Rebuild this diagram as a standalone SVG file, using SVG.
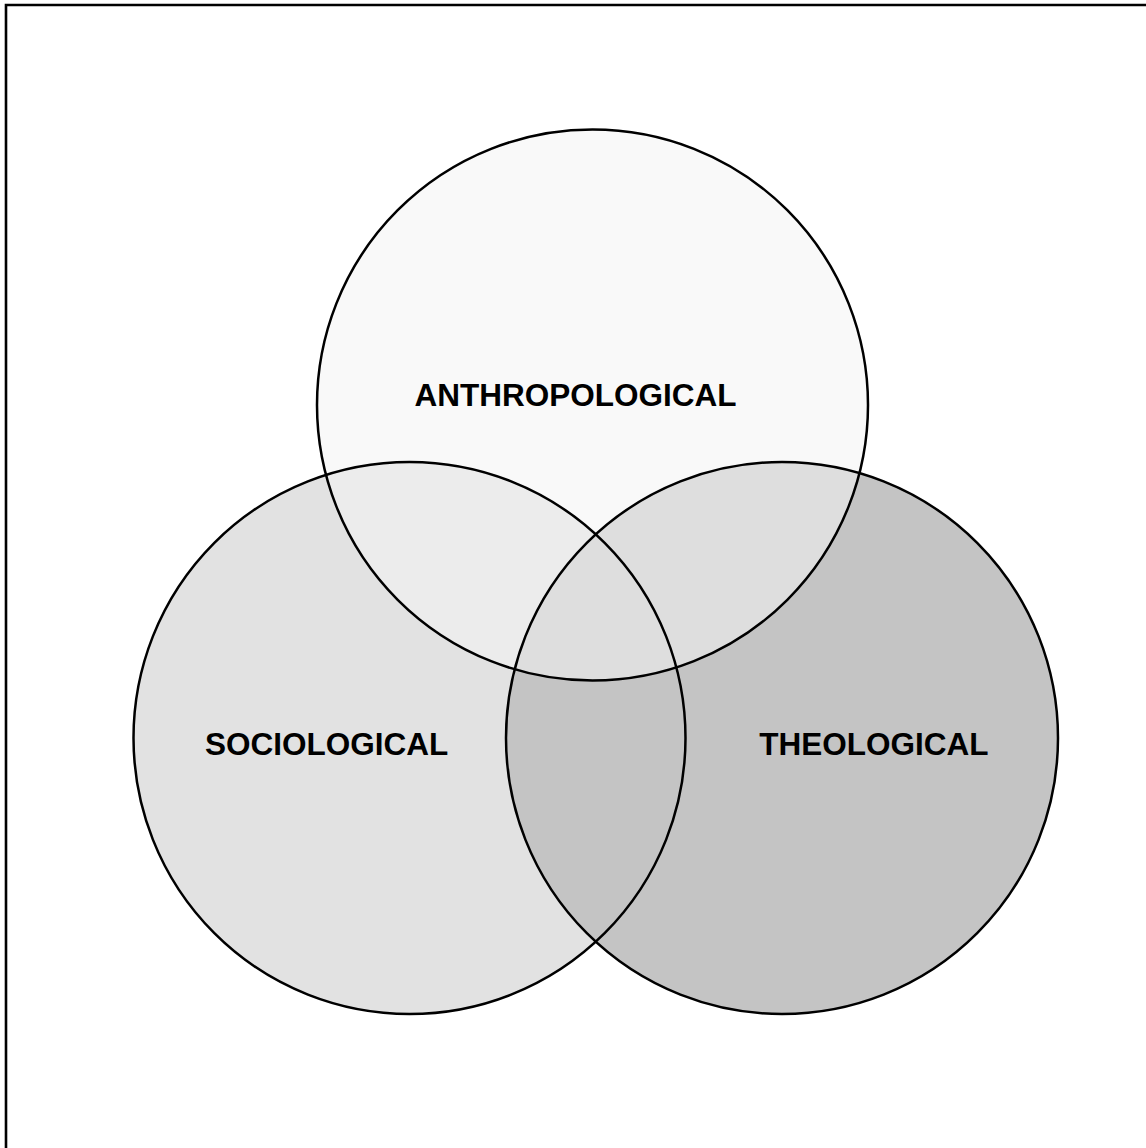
<svg xmlns="http://www.w3.org/2000/svg" width="1146" height="1148" viewBox="0 0 1146 1148">
<style>
.lbl{font-family:"Liberation Sans",Arial,sans-serif;font-weight:bold;font-size:31.5px;fill:#000;text-anchor:middle}
.ol{fill:none;stroke:#000;stroke-width:2.5}
</style>
<rect width="1146" height="1148" fill="#fff"/>
<path d="M6,1148 V5 H1146" fill="none" stroke="#000" stroke-width="2.6"/>
<g id="sociological">
<circle cx="409.5" cy="738" r="276" fill="#e2e2e2"/>
<text class="lbl" x="326.7" y="755">SOCIOLOGICAL</text>
</g>
<g id="theological">
<circle cx="782" cy="738" r="276" fill="#c4c4c4"/>
<text class="lbl" x="873.8" y="754.5">THEOLOGICAL</text>
</g>
<g id="anthropological">
<circle cx="592.5" cy="405" r="275.5" fill="#f4f4f4" fill-opacity="0.55"/>
<text class="lbl" x="575.5" y="406">ANTHROPOLOGICAL</text>
</g>
<g id="connectors">
<circle class="ol" cx="409.5" cy="738" r="276"/>
<circle class="ol" cx="782" cy="738" r="276"/>
<circle class="ol" cx="592.5" cy="405" r="275.5"/>
</g>
</svg>
